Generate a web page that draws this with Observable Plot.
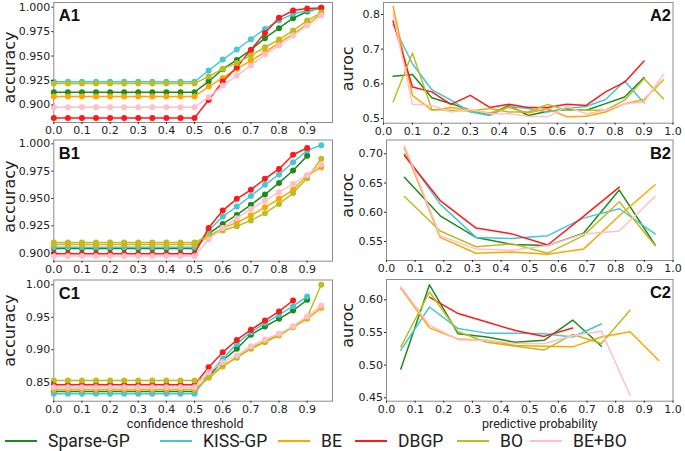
<!DOCTYPE html>
<html>
<head>
<meta charset="utf-8">
<script src="https://cdn.jsdelivr.net/npm/d3@7"></script>
<script src="https://cdn.jsdelivr.net/npm/@observablehq/plot@0.6"></script>
<style>
  body { margin: 0; background: #fff; }
  #root { position: relative; width: 685px; height: 451px; overflow: hidden; background: #fff; }
  #root svg { position: absolute; }
</style>
</head>
<body>
<div id="root"></div>
<script>
// ---------------- data ----------------
const methods = ["Sparse-GP", "KISS-GP", "BE", "DBGP", "BO", "BE+BO"];
const colors  = ["#1f8a1f", "#45c8d2", "#ffa500", "#ff1a1a", "#bcbd22", "#ffc0cb"];

const thresholds = [0.00,0.05,0.10,0.15,0.20,0.25,0.30,0.35,0.40,0.45,0.50,0.55,0.60,0.65,0.70,0.75,0.80,0.85,0.90,0.95];
const probA = [0.033,0.1,0.167,0.233,0.3,0.367,0.433,0.5,0.567,0.633,0.7,0.767,0.833,0.9,0.967];
const probB = [0.0625,0.1875,0.3125,0.4375,0.5625,0.6875,0.8125,0.9375];
const probC = [0.05,0.15,0.25,0.35,0.45,0.55,0.65,0.75,0.85,0.95];

// accuracy vs confidence threshold (order: Sparse-GP, KISS-GP, BE, DBGP, BO, BE+BO)
const accA1 = [
  [0.913,0.913,0.913,0.913,0.913,0.913,0.913,0.913,0.913,0.913,0.913,0.924,0.9365,0.946,0.9563,0.9683,0.9785,0.9887,0.9956,0.9993],
  [0.9237,0.9237,0.9237,0.9237,0.9237,0.9237,0.9237,0.9237,0.9237,0.9237,0.9237,0.9352,0.9464,0.9567,0.9672,0.9778,0.9863,0.9932,0.9966,0.9993],
  [0.9086,0.9086,0.9086,0.9086,0.9086,0.9086,0.9086,0.9086,0.9086,0.9086,0.9086,0.9188,0.9276,0.9369,0.9454,0.9539,0.9635,0.9727,0.9823,0.9932],
  [0.8867,0.8867,0.8867,0.8867,0.8867,0.8867,0.8867,0.8867,0.8867,0.8867,0.8867,0.9051,0.9239,0.9386,0.9563,0.9737,0.9891,0.9966,0.9986,0.9993],
  [0.922,0.922,0.922,0.922,0.922,0.922,0.922,0.922,0.922,0.922,0.922,0.929,0.9369,0.943,0.9505,0.959,0.9669,0.9761,0.9863,0.9945],
  [0.8976,0.8976,0.8976,0.8976,0.8976,0.8976,0.8976,0.8976,0.8976,0.8976,0.8976,0.9078,0.9198,0.93,0.9403,0.9515,0.9608,0.971,0.9812,0.9915]
];
const accB1 = [
  [0.9043,0.9043,0.9043,0.9043,0.9043,0.9043,0.9043,0.9043,0.9043,0.9043,0.9043,0.918,0.9268,0.935,0.9442,0.9537,0.9643,0.9756,0.989,null],
  [0.9055,0.9055,0.9055,0.9055,0.9055,0.9055,0.9055,0.9055,0.9055,0.9055,0.9055,0.9207,0.9335,0.9427,0.9524,0.9625,0.972,0.9832,0.9939,0.9988],
  [0.9079,0.9079,0.9079,0.9079,0.9079,0.9079,0.9079,0.9079,0.9079,0.9079,0.9079,0.9155,0.923,0.928,0.9345,0.942,0.9497,0.958,0.971,0.9787],
  [0.8995,0.8995,0.8995,0.8995,0.8995,0.8995,0.8995,0.8995,0.8995,0.8995,0.8995,0.923,0.939,0.9497,0.958,0.968,0.977,0.990,0.9963,null],
  [0.9098,0.9098,0.9098,0.9098,0.9098,0.9098,0.9098,0.9098,0.9098,0.9098,0.9098,0.916,0.9207,0.9247,0.930,0.9366,0.945,0.955,0.9686,0.9863],
  [0.8975,0.8975,0.8975,0.8975,0.8975,0.8975,0.8975,0.8975,0.8975,0.8975,0.8975,0.9125,0.923,0.932,0.9405,0.948,0.9558,0.9634,0.9716,0.981]
];
const accC1 = [
  [0.8356,0.8356,0.8356,0.8356,0.8356,0.8356,0.8356,0.8356,0.8356,0.8356,0.8356,0.8587,0.8834,0.9014,0.923,0.9358,0.9476,0.9604,0.9769,null],
  [0.832,0.832,0.832,0.832,0.832,0.832,0.832,0.832,0.832,0.832,0.832,0.862,0.886,0.909,0.927,0.941,0.9537,0.967,0.982,null],
  [0.8387,0.8387,0.8387,0.8387,0.8387,0.8387,0.8387,0.8387,0.8387,0.8387,0.8387,0.8567,0.8741,0.8885,0.9014,0.9116,0.9219,0.9347,0.9476,0.9645],
  [0.846,0.846,0.846,0.846,0.846,0.846,0.846,0.846,0.846,0.846,0.846,0.873,0.896,0.915,0.9306,0.945,0.959,0.9758,null,null],
  [0.8526,0.8526,0.8526,0.8526,0.8526,0.8526,0.8526,0.8526,0.8526,0.8526,0.8526,0.8577,0.8757,0.8875,0.9024,0.9127,0.9234,0.9358,0.950,1.000],
  [0.8423,0.8423,0.8423,0.8423,0.8423,0.8423,0.8423,0.8423,0.8423,0.8423,0.8423,0.8654,0.8808,0.891,0.9055,0.9157,0.9245,0.9363,0.9512,0.968]
];

// auroc vs predictive probability
const aurocA2 = [
  [0.622,0.627,0.560,0.543,0.524,0.512,0.538,0.509,0.521,0.526,0.524,0.543,0.562,0.618,null],
  [0.771,0.658,0.583,0.553,0.519,0.509,0.535,0.529,0.519,0.529,0.535,0.555,0.608,0.545,null],
  [0.823,0.567,0.524,0.532,0.524,0.516,0.532,0.516,0.529,0.505,0.507,0.519,0.543,0.555,0.612],
  [0.781,0.591,0.577,0.541,0.567,0.532,0.541,0.532,0.532,0.541,0.538,0.577,0.605,0.666,null],
  [0.548,0.689,0.526,0.524,0.522,0.529,0.519,0.519,0.541,0.524,0.524,0.524,0.553,0.615,0.557],
  [0.802,0.541,0.538,0.519,0.526,0.514,0.514,0.507,0.505,0.535,0.514,0.524,0.543,0.548,0.627]
];
const aurocB2 = [
  [0.660,0.594,0.557,0.545,0.543,0.564,0.638,0.544],
  [0.700,0.614,0.557,0.555,0.560,0.590,0.606,0.563],
  [0.710,0.557,0.530,0.532,0.528,0.537,0.594,0.647],
  [0.697,0.620,0.573,0.563,0.544,0.593,0.643,null],
  [0.627,0.568,0.541,0.546,0.530,0.560,0.618,0.543],
  [0.714,0.560,0.537,0.535,0.543,0.563,0.568,0.627]
];
const aurocC2 = [
  [0.494,0.623,0.548,0.543,0.535,0.538,0.569,0.529,null,null],
  [0.523,0.589,0.556,0.549,0.549,0.548,0.543,0.563,null,null],
  [0.618,0.557,0.540,0.538,0.530,0.529,0.528,0.543,0.551,0.507],
  [null,0.604,0.579,0.566,0.553,0.544,0.557,null,null,null],
  [0.528,0.612,0.551,0.535,0.529,0.523,0.547,0.533,0.584,null],
  [0.620,0.561,0.539,0.538,0.533,0.533,0.545,0.552,0.454,null]
];

const ticksLeftX  = [0,0.1,0.2,0.3,0.4,0.5,0.6,0.7,0.8,0.9];
const ticksRightX = [0,0.1,0.2,0.3,0.4,0.5,0.6,0.7,0.8,0.9,1.0];
const ticksA1 = [0.900,0.925,0.950,0.975,1.000];
const ticksB1 = [0.900,0.925,0.950,0.975,1.000];
const ticksC1 = [0.85,0.90,0.95,1.00];
const ticksA2 = [0.5,0.6,0.7,0.8];
const ticksB2 = [0.55,0.60,0.65,0.70];
const ticksC2 = [0.45,0.50,0.55,0.60];

// ---------------- drawing ----------------
const root = document.getElementById("root");
const humanist = "Roboto,'Open Sans',sans-serif";

function toRows(xs, series) {
  const rows = [];
  series.forEach((vals, i) => vals.forEach((v, j) => {
    if (v != null) rows.push({method: methods[i], x: xs[j], y: v});
  }));
  return rows;
}

function panel(c) {
  const rows = toRows(c.xs, c.series);
  const marks = [Plot.frame({stroke: "#8c8c8c"})];
  methods.forEach(m => {
    const d = rows.filter(r => r.method === m);
    marks.push(Plot.line(d, {x: "x", y: "y", stroke: "method", strokeWidth: 1.5}));
    if (c.dots) marks.push(Plot.dot(d, {x: "x", y: "y", fill: "method", r: 3}));
  });
  marks.push(Plot.axisX({ticks: c.xticks, tickFormat: d3.format(".1f"), tickSize: 2, tickPadding: 1.5, label: null}));
  marks.push(Plot.axisY({ticks: c.yticks, tickFormat: d3.format(c.yfmt), tickSize: 2, tickPadding: 1.5, label: null}));
  marks.push(Plot.text([c.ylabel], {text: d => d, frameAnchor: "left", textAnchor: "middle", lineAnchor: "middle",
    rotate: -90, dx: c.ylabDx, dy: c.ylabDy, fontSize: 16, fill: "#222"}));
  marks.push(Plot.text([c.tag], {text: d => d, frameAnchor: c.tagRight ? "top-right" : "top-left",
    textAnchor: c.tagRight ? "end" : "start", lineAnchor: "top", dx: c.tagRight ? -2 : 5, dy: 7,
    fontSize: 16.5, fontWeight: "bold", fontFamily: "'Liberation Sans',Arial,sans-serif", fill: "#111"}));
  if (c.xtitle) marks.push(Plot.text([c.xtitle], {text: d => d, frameAnchor: "bottom", textAnchor: "middle",
    lineAnchor: "middle", dx: c.xtitleDx, dy: 23, fontSize: 12.5, fontFamily: humanist, fill: "#222"}));
  const svg = Plot.plot({
    width: c.width, height: c.height,
    marginLeft: c.ml, marginRight: c.mr, marginTop: c.mt, marginBottom: c.mb,
    x: {domain: c.xdom, label: null},
    y: {domain: c.ydom, label: null},
    color: {domain: methods, range: colors},
    style: {fontSize: "11px", fontFamily: "'DejaVu Sans',sans-serif", color: "#222", background: "transparent", overflow: "visible"},
    marks
  });
  svg.style.position = "absolute";
  svg.style.left = c.left + "px";
  svg.style.top = c.top + "px";
  svg.style.maxWidth = "none";
  root.appendChild(svg);
}

// left column (accuracy)
panel({xs: thresholds, series: accA1, dots: true, xticks: ticksLeftX, yticks: ticksA1, yfmt: ".3f",
  xdom: [0, 0.99], ydom: [0.882, 1.0048], left: 0, top: 0, width: 340, height: 140,
  ml: 53.3, mr: 8, mt: 2, mb: 18, ylabel: "accuracy", ylabDx: -44.3, ylabDy: 5, tag: "A1"});
panel({xs: thresholds, series: accB1, dots: true, xticks: ticksLeftX, yticks: ticksB1, yfmt: ".3f",
  xdom: [0, 0.99], ydom: [0.8927, 1.0035], left: 0, top: 137, width: 340, height: 142,
  ml: 53.3, mr: 8, mt: 2.5, mb: 18.3, ylabel: "accuracy", ylabDx: -44.3, ylabDy: -4, tag: "B1"});
panel({xs: thresholds, series: accC1, dots: true, xticks: ticksLeftX, yticks: ticksC1, yfmt: ".2f",
  xdom: [0, 0.99], ydom: [0.8207, 1.0074], left: 0, top: 277, width: 340, height: 174,
  ml: 53.3, mr: 8, mt: 2.5, mb: 50.3, ylabel: "accuracy", ylabDx: -44.3, ylabDy: -10, tag: "C1",
  xtitle: "confidence threshold", xtitleDx: -8});

// right column (auroc)
panel({xs: probA, series: aurocA2, dots: false, xticks: ticksRightX, yticks: ticksA2, yfmt: ".1f",
  xdom: [0, 1], ydom: [0.4867, 0.8345], left: 340, top: 0, width: 345, height: 140,
  ml: 43, mr: 12.5, mt: 2, mb: 17.3, ylabel: "auroc", ylabDx: -35.5, ylabDy: 6, tag: "A2", tagRight: true});
panel({xs: probB, series: aurocB2, dots: false, xticks: ticksRightX, yticks: ticksB2, yfmt: ".2f",
  xdom: [0, 1], ydom: [0.5175, 0.7236], left: 340, top: 137, width: 345, height: 142,
  ml: 46, mr: 12.5, mt: 2.5, mb: 19, ylabel: "auroc", ylabDx: -38.5, ylabDy: -5, tag: "B2", tagRight: true});
panel({xs: probC, series: aurocC2, dots: false, xticks: ticksRightX, yticks: ticksC2, yfmt: ".2f",
  xdom: [0, 1], ydom: [0.4448, 0.6311], left: 340, top: 277, width: 345, height: 174,
  ml: 46, mr: 12.5, mt: 2, mb: 50.3, ylabel: "auroc", ylabDx: -38.5, ylabDy: -15, tag: "C2", tagRight: true,
  xtitle: "predictive probability", xtitleDx: 10});

// legend (line swatches + names), placed below the panels
const legendX = [5, 160, 278, 355, 457, 530];
const leg = d3.select(root).append("svg")
  .attr("width", 685).attr("height", 26)
  .style("left", "0px").style("top", "428px").style("overflow", "visible");
methods.forEach((m, i) => {
  const g = leg.append("g").attr("transform", `translate(${legendX[i]},13)`);
  g.append("line").attr("x1", 0).attr("x2", 32).attr("y1", 0).attr("y2", 0)
    .attr("stroke", colors[i]).attr("stroke-width", 2);
  g.append("text").attr("x", 43).attr("y", 0).attr("dy", "0.36em")
    .attr("font-family", humanist).attr("font-size", 17.5).attr("fill", "#222").text(m);
});
</script>
</body>
</html>
